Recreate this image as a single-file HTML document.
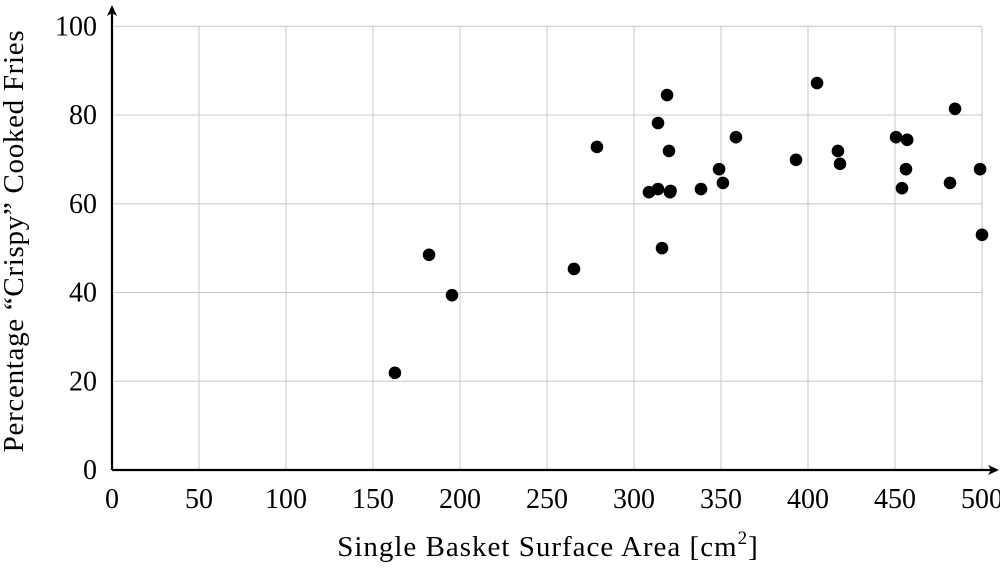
<!DOCTYPE html>
<html><head><meta charset="utf-8"><style>
body{margin:0;background:#fff;}
svg text{font-family:"Liberation Serif",serif;fill:#000;}
</style></head><body>
<svg id="chart" width="1000" height="563" viewBox="0 0 1000 563" xmlns="http://www.w3.org/2000/svg">
<g id="grid"></g>
<g id="ticks"></g>
<g id="points"></g>
<g>
<line x1="112" y1="470" x2="992" y2="470" stroke="#000" stroke-width="2.2"/>
<path d="M999,470 L988,465 L991,470 L988,475 Z" fill="#000"/>
<line x1="112" y1="470" x2="112" y2="13" stroke="#000" stroke-width="2.2"/>
<path d="M112,5 L107,16 L112,13 L117,16 Z" fill="#000"/>
</g>
<text x="548" y="556" font-size="29" letter-spacing="1" text-anchor="middle">Single Basket Surface Area [cm<tspan font-size="19" dy="-12">2</tspan><tspan dy="12">]</tspan></text>
<text transform="translate(23,241) rotate(-90)" font-size="29" letter-spacing="0.7" text-anchor="middle">Percentage “Crispy” Cooked Fries</text>
</svg>
<script>
const xTicks=[0,50,100,150,200,250,300,350,400,450,500];
const yTicks=[0,20,40,60,80,100];
const xValues=[162.6,182.2,195.4,265.5,278.7,308.6,313.8,313.8,316.1,319,320.1,320.7,321,338.5,348.9,351.1,358.6,393.1,405.2,417.2,418.4,450.6,454,457,456.3,481.6,484.5,498.9,500];
const yValues=[21.9,48.5,39.4,45.3,72.8,62.6,63.3,78.2,50.0,84.5,71.9,62.6,62.9,63.3,67.8,64.7,75.0,69.9,87.2,71.9,69.0,75.0,63.5,74.4,67.8,64.7,81.4,67.8,53.0];
const NS="http://www.w3.org/2000/svg";
function sx(v){return 112+v*1.74;}
function sy(v){return 470-v*4.4375;}
const grid=document.getElementById('grid'),ticks=document.getElementById('ticks'),pts=document.getElementById('points');
xTicks.forEach(t=>{
 if(t>0){const l=document.createElementNS(NS,'line');
 
 
 l.setAttribute('x1',sx(t));l.setAttribute('x2',sx(t));l.setAttribute('y1',sy(0));l.setAttribute('y2',sy(100));l.setAttribute('stroke','#c8c8c8');l.setAttribute('stroke-width','1');grid.appendChild(l);}
 const tx=document.createElementNS(NS,'text');
 
 
 tx.setAttribute('x',sx(t));tx.setAttribute('y',508);tx.setAttribute('font-size','28');tx.setAttribute('text-anchor','middle');tx.textContent=t;ticks.appendChild(tx);
});
yTicks.forEach(t=>{
 if(t>0){const l=document.createElementNS(NS,'line');
 
 
 l.setAttribute('x1',sx(0));l.setAttribute('x2',sx(500));l.setAttribute('y1',sy(t));l.setAttribute('y2',sy(t));l.setAttribute('stroke','#c8c8c8');l.setAttribute('stroke-width','1');grid.appendChild(l);}
 const tx=document.createElementNS(NS,'text');
 
 
 tx.setAttribute('x',97);tx.setAttribute('y',sy(t)+9);tx.setAttribute('font-size','28');tx.setAttribute('text-anchor','end');tx.textContent=t;ticks.appendChild(tx);
});
xValues.forEach((x,i)=>{
 const c=document.createElementNS(NS,'circle');
 
 
 c.setAttribute('cx',sx(x));c.setAttribute('cy',sy(yValues[i]));c.setAttribute('r','6.3');c.setAttribute('fill','#000');pts.appendChild(c);
});
</script>
</body></html>
